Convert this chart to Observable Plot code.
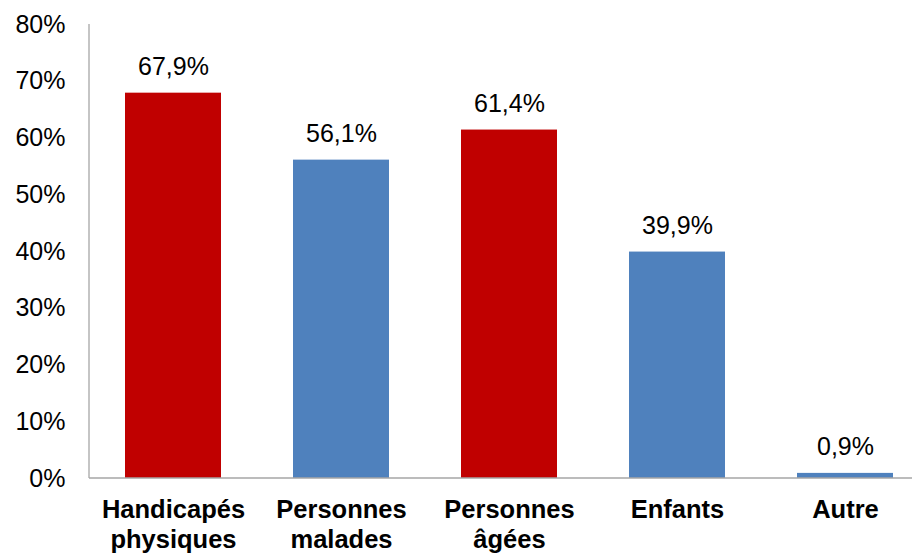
<!DOCTYPE html>
<html>
<head>
<meta charset="utf-8">
<script src="https://cdn.jsdelivr.net/npm/d3@7"></script>
<script src="https://cdn.jsdelivr.net/npm/@observablehq/plot@0.6"></script>
<style>
  html, body { margin: 0; padding: 0; background: #fff; overflow: hidden; }
  svg { overflow: visible; }
</style>
</head>
<body>
<div id="chart"></div>
<script>
const categories = ["Handicapés physiques", "Personnes malades", "Personnes âgées", "Enfants", "Autre"];
const labels = ["Handicapés\nphysiques", "Personnes\nmalades", "Personnes\nâgées", "Enfants", "Autre"];
const values = [0.679, 0.561, 0.614, 0.399, 0.009];
const groups = ["rouge", "bleu", "rouge", "bleu", "bleu"];
const yTicks = [0, 0.1, 0.2, 0.3, 0.4, 0.5, 0.6, 0.7, 0.8];

const data = categories.map((c, i) => ({category: c, value: values[i], group: groups[i]}));
const fmt = v => d3.format(".1f")(v * 100).replace(".", ",") + "%";
const labelOf = Object.fromEntries(categories.map((c, i) => [c, labels[i]]));

// left axis line drawn from the scales
const axisLine = (index, scales, channels, dimensions) => {
  const g = d3.create("svg:g");
  const x0 = dimensions.marginLeft;
  g.append("line")
    .attr("x1", x0).attr("x2", x0)
    .attr("y1", scales.y(0.8)).attr("y2", scales.y(0))
    .attr("stroke", "#A6A6A6").attr("stroke-width", 1.3);
  g.append("line")
    .attr("x1", x0).attr("x2", dimensions.width + 20)
    .attr("y1", scales.y(0)).attr("y2", scales.y(0))
    .attr("stroke", "#A6A6A6").attr("stroke-width", 1.3);
  return g.node();
};

const chart = Plot.plot({
  width: 912,
  height: 554,
  marginTop: 24,
  marginBottom: 76,
  marginLeft: 89,
  marginRight: 0,
  style: {fontFamily: "Liberation Sans, Arial, sans-serif", fontSize: "25px", color: "#000", background: "#fff"},
  x: {domain: categories, range: [89, 929], paddingInner: 0.4286, paddingOuter: 0.2143, label: null},
  y: {domain: [0, 0.8], label: null},
  color: {domain: ["rouge", "bleu"], range: ["#C00000", "#4F81BD"]},
  marks: [
    Plot.barY(data, {x: "category", y: "value", fill: "group"}),
    Plot.text(data, {x: "category", y: "value", text: d => fmt(d.value), dy: -26, fontSize: 25, fill: "#000"}),
    Plot.axisY({ticks: yTicks, tickFormat: d => Math.round(d * 100) + "%", tickSize: 0, tickPadding: 24, fontSize: 25, label: null}),
    Plot.axisX({tickFormat: d => labelOf[d], tickSize: 0, tickPadding: 18, fontSize: 25.5, fontWeight: "bold", lineHeight: 1.18, label: null}),
    axisLine
  ]
});
document.getElementById("chart").appendChild(chart);
</script>
</body>
</html>
